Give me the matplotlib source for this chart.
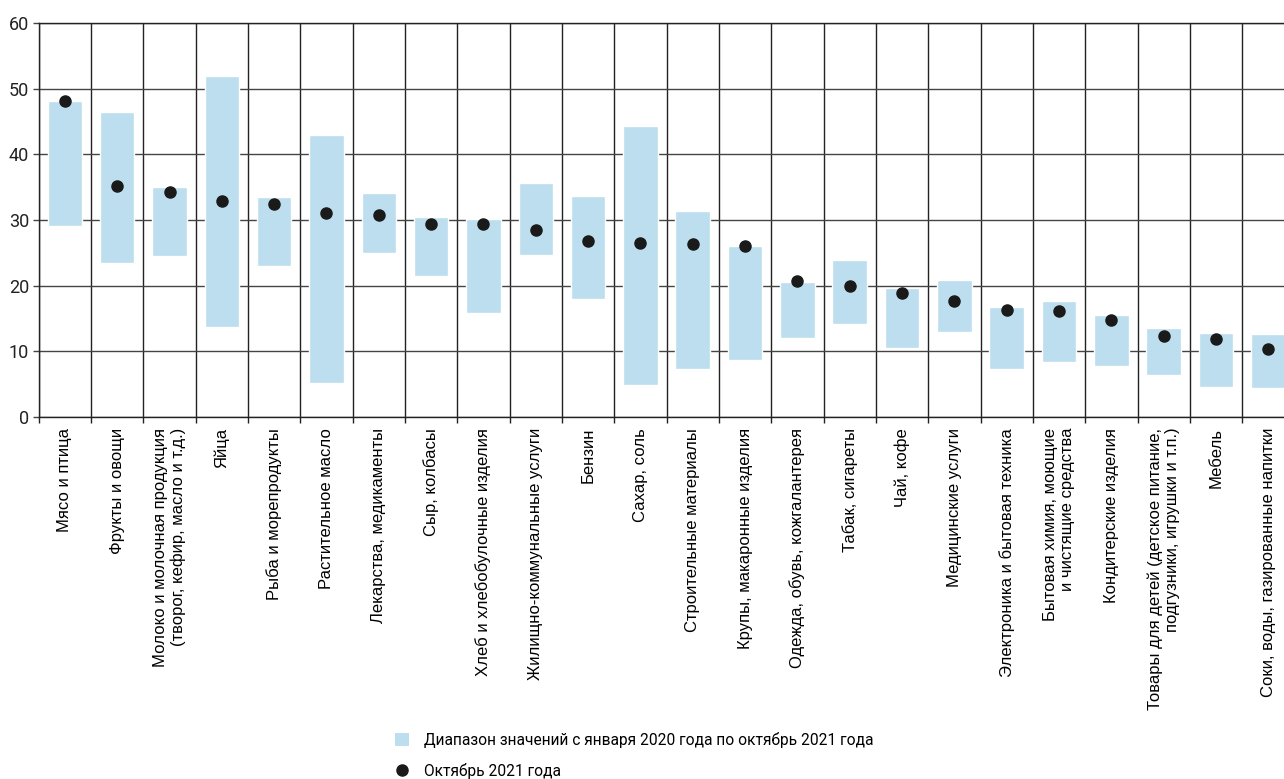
import numpy as np
import matplotlib
matplotlib.use("Agg")
import matplotlib.pyplot as plt
from matplotlib.patches import Patch
from matplotlib.lines import Line2D

plt.rcParams['font.family'] = ['Roboto', 'DejaVu Sans']

# categories (bottom to top of the range, october 2021 value)
categories = [
    "Мясо и птица",
    "Фрукты и овощи",
    "Молоко и молочная продукция\n(творог, кефир, масло и т.д.)",
    "Яйца",
    "Рыба и морепродукты",
    "Растительное масло",
    "Лекарства, медикаменты",
    "Сыр, колбасы",
    "Хлеб и хлебобулочные изделия",
    "Жилищно-коммунальные услуги",
    "Бензин",
    "Сахар, соль",
    "Строительные материалы",
    "Крупы, макаронные изделия",
    "Одежда, обувь, кожгалантерея",
    "Табак, сигареты",
    "Чай, кофе",
    "Медицинские услуги",
    "Электроника и бытовая техника",
    "Бытовая химия, моющие\nи чистящие средства",
    "Кондитерские изделия",
    "Товары для детей (детское питание,\nподгузники, игрушки и т.п.)",
    "Мебель",
    "Соки, воды, газированные напитки",
]
range_low = [29.1, 23.5, 24.5, 13.7, 23.0, 5.2, 25.0, 21.5, 15.8, 24.7, 18.0, 4.8,
             7.3, 8.6, 12.0, 14.2, 10.5, 12.9, 7.3, 8.3, 7.8, 6.4, 4.5, 4.4]
range_high = [48.2, 46.5, 35.0, 52.0, 33.5, 43.0, 34.1, 30.5, 30.1, 35.7, 33.6, 44.4,
              31.4, 26.1, 20.6, 23.9, 19.6, 20.8, 16.7, 17.6, 15.5, 13.6, 12.7, 12.6]
oct_2021 = [48.2, 35.2, 34.3, 32.9, 32.5, 31.0, 30.8, 29.4, 29.4, 28.4, 26.8, 26.5,
            26.4, 26.1, 20.7, 20.0, 18.8, 17.6, 16.3, 16.1, 14.7, 12.3, 11.85, 10.3]

bar_color = "#bddeee"
x = np.arange(len(categories))
low = np.array(range_low)
high = np.array(range_high)

fig = plt.figure(figsize=(12.84, 7.79), dpi=100)
ax = fig.add_axes([38.7 / 1284, 1 - 416.7 / 779, (1294.5 - 38.7) / 1284, (416.7 - 23.3) / 779])

ax.bar(x, high - low, bottom=low, width=0.66, color=bar_color,
       edgecolor="white", linewidth=1, zorder=2)
ax.plot(x, oct_2021, "o", color="#1a1a1a", ms=8, zorder=3)

ax.set_xlim(-0.5, len(categories) - 0.5)
ax.set_ylim(0, 60)
ax.set_yticks(np.arange(0, 61, 10))
ax.set_xticks(x)
ax.set_xticklabels(categories, rotation=90, ha="center", va="top",
                   multialignment="right", fontsize=12,
                   family=["Liberation Sans", "DejaVu Sans"])
ax.set_xticks(np.arange(-0.5, len(categories), 1), minor=True)

ax.grid(True, axis="y", which="major", color="#444444", lw=1, zorder=1)
ax.grid(True, axis="x", which="minor", color="#222222", lw=1, zorder=1)
ax.tick_params(axis="x", which="major", length=0, pad=8)
ax.tick_params(axis="x", which="minor", length=4, color="#222222", width=1)
ax.tick_params(axis="y", length=4, color="#444444", width=1, labelsize=13, pad=3,
               labelcolor="#222222")
ax.set_axisbelow(True)
for s in ax.spines.values():
    s.set_color("#222222")
    s.set_linewidth(1)

handles = [Patch(facecolor=bar_color, edgecolor="none"),
           Line2D([], [], marker="o", ls="none", color="#1a1a1a", ms=8)]
labels = ["Диапазон значений с января 2020 года по октябрь 2021 года",
          "Октябрь 2021 года"]
fig.legend(handles, labels, loc="upper left", bbox_to_anchor=(395 / 1284, 1 - 732 / 779),
           frameon=False, fontsize=11.2, handlelength=0.9, handleheight=0.9,
           handletextpad=0.95, labelspacing=0.95, borderpad=0, borderaxespad=0)

fig.savefig("out.png", dpi=100)
